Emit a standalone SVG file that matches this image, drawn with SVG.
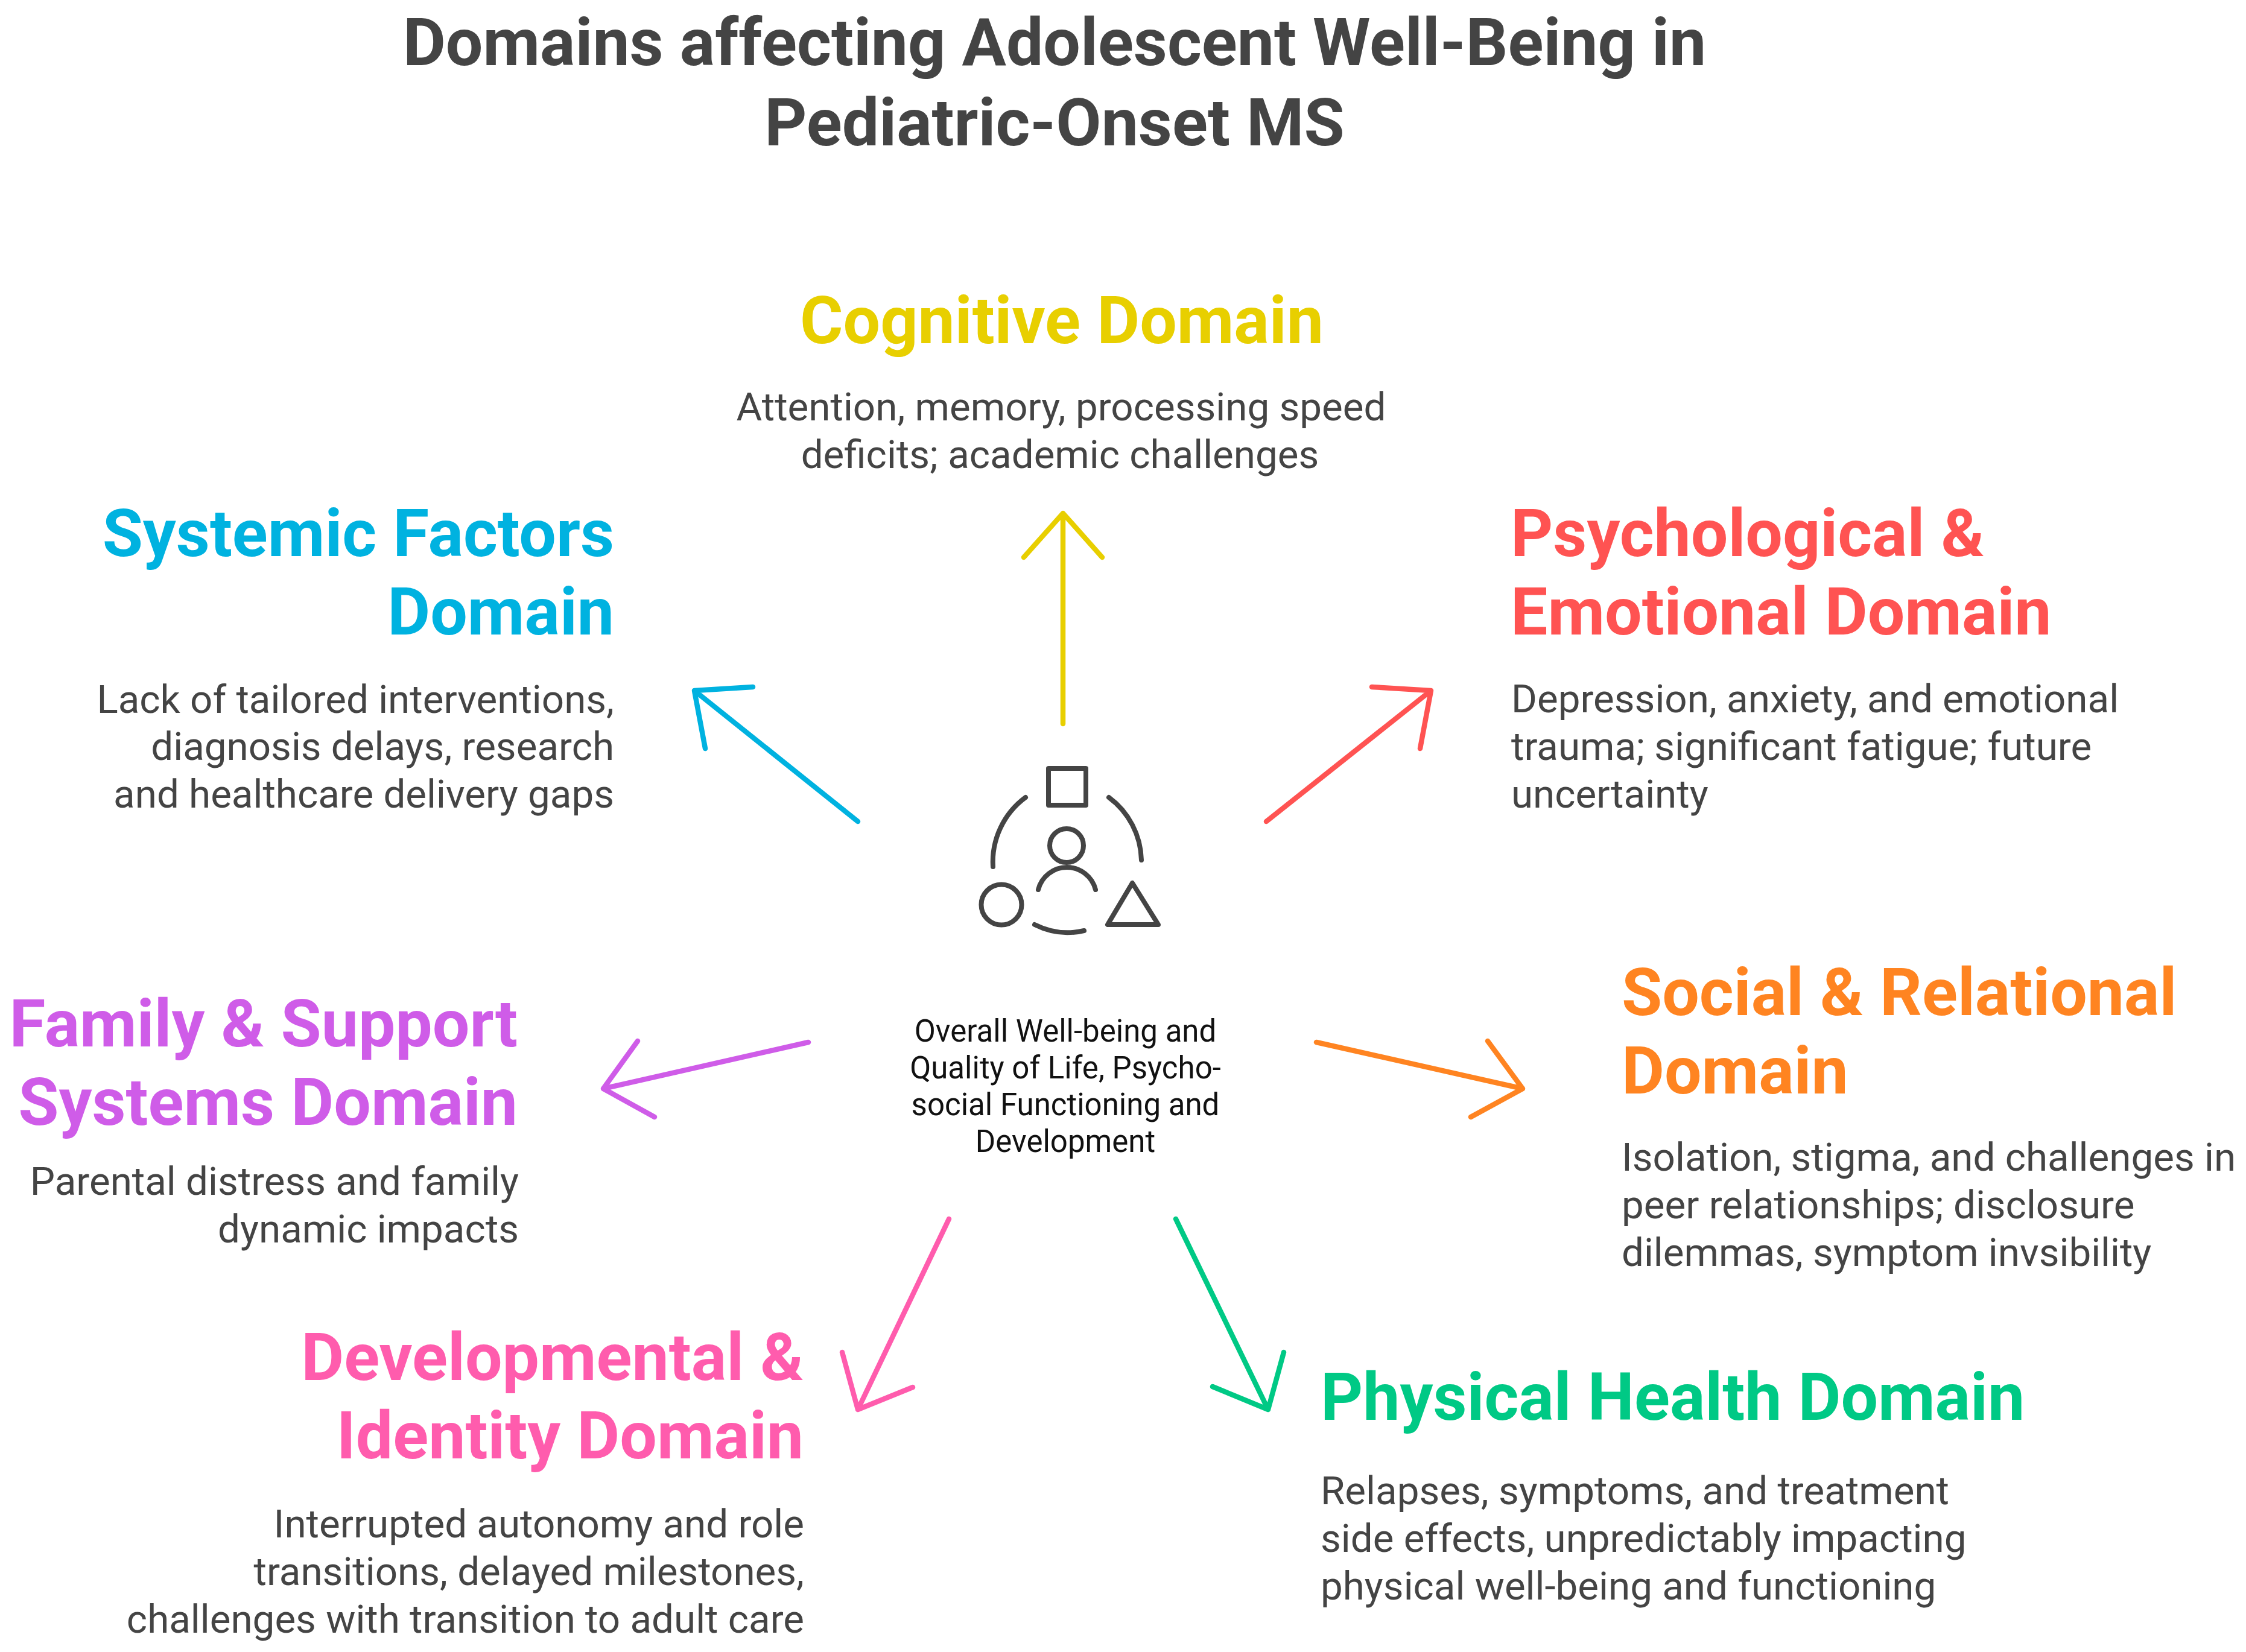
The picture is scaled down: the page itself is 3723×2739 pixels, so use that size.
<svg xmlns="http://www.w3.org/2000/svg" width="3723" height="2739" viewBox="0 0 3723 2739">
<style>
text{font-family:Roboto,"Liberation Sans",sans-serif}
.t{font-size:109.2px;font-weight:700;fill:#444}
.h{font-size:109.2px;font-weight:700}
.b{font-size:65.5px;fill:#444}
.c{font-size:51px;fill:#111;text-anchor:middle}
.m{text-anchor:middle}.e{text-anchor:end}
.a{fill:none;stroke-width:8.5;stroke-linecap:round;stroke-linejoin:round}
.i{fill:none;stroke:#444;stroke-width:8;stroke-linecap:round;stroke-linejoin:round}
</style>
<rect width="3723" height="2739" fill="#fff"/>
<g id="title"><text class="t m" x="1748" y="108">Domains affecting Adolescent Well-Being in</text><text class="t m" x="1748" y="241">Pediatric-Onset MS</text></g>
<g id="connectors">
<path class="a" stroke="#E8CF00" d="M1762 1200V851M1697 924L1762 851L1827 924"/>
<path class="a" stroke="#00B2E0" d="M1422 1362L1151 1145M1248 1139L1151 1145L1169 1241"/>
<path class="a" stroke="#FF5352" d="M2099 1362L2372 1145M2274 1139L2372 1145L2354 1241"/>
<path class="a" stroke="#CF5CE8" d="M1340 1728L1000 1805M1057 1726L1000 1805L1085 1852"/>
<path class="a" stroke="#FF8421" d="M2182 1728L2524 1805M2466 1726L2524 1805L2438 1852"/>
<path class="a" stroke="#FF5CAD" d="M1573 2021L1422 2337M1396 2242L1422 2337L1513 2300"/>
<path class="a" stroke="#00C985" d="M1949 2021L2102 2337M2010 2299L2102 2337L2128 2242"/>
</g>
<g id="center">
<rect class="i" x="1738" y="1274" width="62" height="61"/>
<circle class="i" cx="1768" cy="1402" r="28"/>
<path class="i" d="M1721 1475A49 49 0 0 1 1816 1475"/>
<path class="i" d="M1700 1322A133 133 0 0 0 1646 1437"/>
<path class="i" d="M1838 1322A133 133 0 0 1 1892 1426"/>
<path class="i" d="M1715 1533Q1755 1553 1797 1543"/>
<circle class="i" cx="1660" cy="1500" r="33.5"/>
<path class="i" d="M1877 1464L1836 1533H1920Z"/>
<text class="c" x="1766" y="1727">Overall Well-being and</text><text class="c" x="1766" y="1788">Quality of Life, Psycho-</text><text class="c" x="1766" y="1849">social Functioning and</text><text class="c" x="1766" y="1910">Development</text>
</g>
<g id="cognitive"><text class="h m" fill="#E8CF00" x="1760" y="569">Cognitive Domain</text><text class="b m" x="1759" y="697">Attention, memory, processing speed</text><text class="b m" x="1757" y="776">deficits; academic challenges</text></g>
<g id="systemic"><text class="h e" fill="#00B2E0" x="1018" y="922">Systemic Factors</text><text class="h e" fill="#00B2E0" x="1018" y="1052">Domain</text><text class="b e" x="1018" y="1182">Lack of tailored interventions,</text><text class="b e" x="1018" y="1260">diagnosis delays, research</text><text class="b e" x="1018" y="1339">and healthcare delivery gaps</text></g>
<g id="psychological"><text class="h" fill="#FF5352" x="2504" y="922">Psychological &amp;</text><text class="h" fill="#FF5352" x="2504" y="1052">Emotional Domain</text><text class="b" x="2505" y="1181">Depression, anxiety, and emotional</text><text class="b" x="2505" y="1260">trauma; significant fatigue; future</text><text class="b" x="2505" y="1339">uncertainty</text></g>
<g id="family"><text class="h e" fill="#CF5CE8" x="858" y="1735">Family &amp; Support</text><text class="h e" fill="#CF5CE8" x="858" y="1865">Systems Domain</text><text class="b e" x="860" y="1981">Parental distress and family</text><text class="b e" x="860" y="2060">dynamic impacts</text></g>
<g id="social"><text class="h" fill="#FF8421" x="2688" y="1683">Social &amp; Relational</text><text class="h" fill="#FF8421" x="2688" y="1813">Domain</text><text class="b" x="2688" y="1941">Isolation, stigma, and challenges in</text><text class="b" x="2688" y="2020">peer relationships; disclosure</text><text class="b" x="2688" y="2099">dilemmas, symptom invsibility</text></g>
<g id="developmental"><text class="h e" fill="#FF5CAD" x="1332" y="2288">Developmental &amp;</text><text class="h e" fill="#FF5CAD" x="1332" y="2418">Identity Domain</text><text class="b e" x="1333" y="2549">Interrupted autonomy and role</text><text class="b e" x="1333" y="2628">transitions, delayed milestones,</text><text class="b e" x="1333" y="2707">challenges with transition to adult care</text></g>
<g id="physical"><text class="h" fill="#00C985" x="2189" y="2354">Physical Health Domain</text><text class="b" x="2189" y="2494">Relapses, symptoms, and treatment</text><text class="b" x="2189" y="2573">side effects, unpredictably impacting</text><text class="b" x="2189" y="2652">physical well-being and functioning</text></g>
</svg>
